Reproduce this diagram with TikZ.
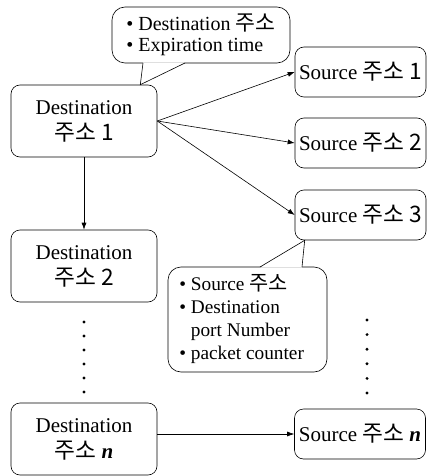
\documentclass[tikz,border=0pt]{standalone}
\usepackage{fontspec}
\setmainfont{Liberation Serif}
\newfontfamily\kofont[Scale=1.08]{Noto Sans CJK KR}
\newcommand{\ko}[1]{{\kofont #1}}
\newcommand{\nn}{\textbf{\textit{n}}}
\usetikzlibrary{positioning, arrows.meta}

\begin{document}
\begin{tikzpicture}[x=1pt, y=-1pt, line width=0.6pt,
        box/.style={draw, rounded corners=9pt, align=center, inner sep=0pt,
            font=\fontsize{21}{26}\selectfont},
        dbox/.style={box, minimum width=146pt, minimum height=72pt},
        sbox/.style={box, minimum width=131pt, minimum height=50pt},
        note/.style={draw, fill=white, rounded corners=13pt, inner sep=0pt},
        >={Latex[length=7pt, width=5pt]}]
        %\draw[help lines, step=20pt] (0,0) grid (427,476);
        \useasboundingbox (0,0) rectangle (427,476);

        % destination side
        \node[dbox] (dst1) at (84,121) {Destination\\\ko{주소 1}};
        \node[dbox] (dst2) at (84,266) {Destination\\\ko{주소 2}};
        \node[dbox] (dstn) at (84,439) {Destination\\\ko{주소} \nn};

        % source side
        \node[sbox] (src1) at (360.5,72) {Source \ko{주소 1}};
        \node[sbox] (src2) at (360.5,143) {Source \ko{주소 2}};
        \node[sbox] (src3) at (360.5,215) {Source \ko{주소 3}};
        \node[sbox] (srcn) at (360,434) {Source \ko{주소} \nn};

        \foreach \s in {src1,src2,src3}
            \draw[->] (dst1.east) -- (\s.west);
        \draw[->] (dst1.south) -- (dst2.north);
        \draw[->] (dstn.east |- srcn) -- (srcn.west);

        % vertical dots
        \foreach \k in {0,...,5}
        {%
            \pgfmathsetmacro{\yl}{322+14*\k}
            \pgfmathsetmacro{\yr}{320+14.6*\k}
            \fill (84,\yl) circle (1.6pt);
            \fill (367,\yr) circle (1.6pt);
        }

        % callouts
        \node[note, minimum width=178pt, minimum height=56pt] (note1) at (201,35) {};
        \node[align=left, font=\fontsize{20}{20.5}\selectfont, anchor=west] (txt1)
            at ([xshift=11pt]note1.west)
            {\textbullet\ Destination \ko{주소}\\\textbullet\ Expiration time};
        \coordinate (tip1) at ([xshift=-17pt]dst1.north east);
        \fill[white] ([xshift=-58pt, yshift=1pt]note1.south) -- (tip1)
            -- ([xshift=-16pt, yshift=1pt]note1.south) -- cycle;
        \draw ([xshift=-58pt, yshift=0.3pt]note1.south) -- (tip1)
            -- ([xshift=-16pt, yshift=0.3pt]note1.south);

        \node[note, minimum width=159pt, minimum height=105pt] (note2) at (247.5,319.5) {};
        \node[align=left, font=\fontsize{19.3}{23}\selectfont, anchor=west] (txt2)
            at ([xshift=8pt]note2.west)
            {\textbullet\ Source \ko{주소}\\\textbullet\ Destination\\
             \phantom{\textbullet\ }port Number\\\textbullet\ packet counter};
        \coordinate (tip2) at ([xshift=10pt]src3.south west);
        \fill[white] ([xshift=12.5pt, yshift=-1pt]note2.north) -- (tip2)
            -- ([xshift=54.5pt, yshift=-1pt]note2.north) -- cycle;
        \draw ([xshift=12.5pt, yshift=-0.3pt]note2.north) -- (tip2)
            -- ([xshift=54.5pt, yshift=-0.3pt]note2.north);
\end{tikzpicture}
\end{document}
